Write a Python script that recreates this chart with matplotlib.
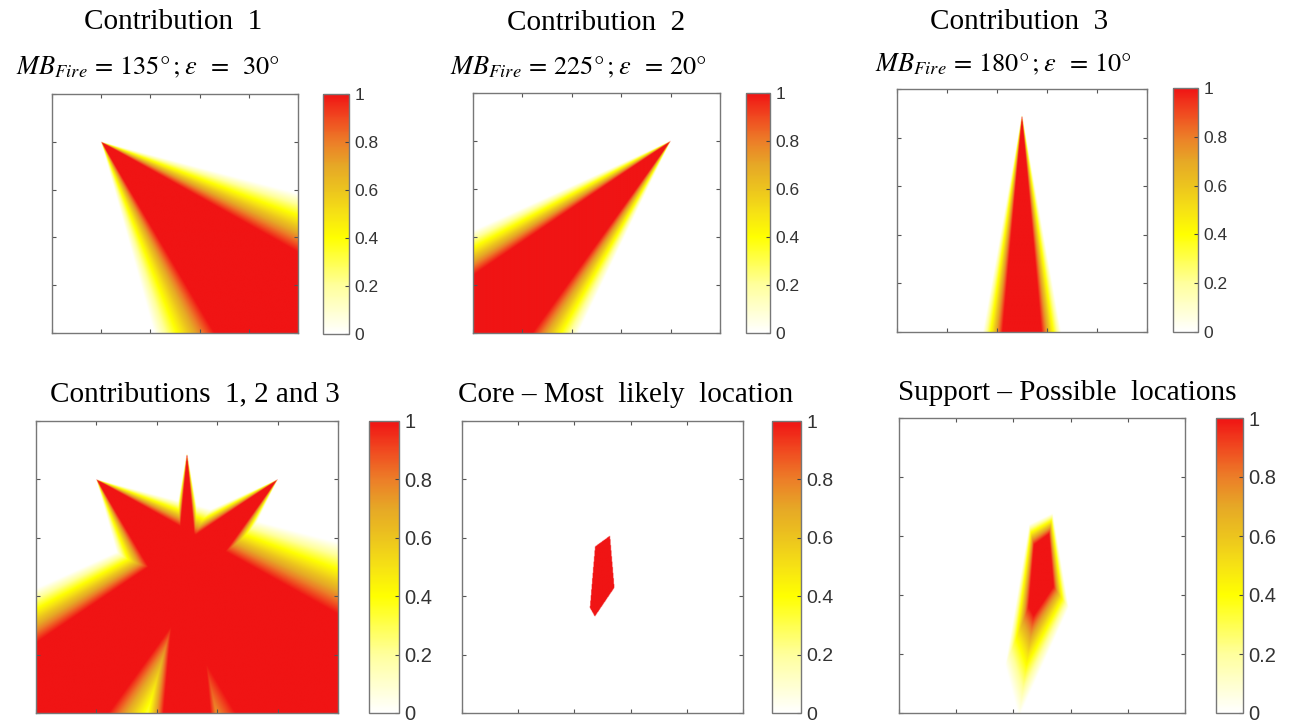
import numpy as np
import matplotlib
matplotlib.use('Agg')
import matplotlib.pyplot as plt
from matplotlib.colors import LinearSegmentedColormap

plt.rcParams['mathtext.fontset'] = 'stix'

# observers / bearings (domain 0..5 on both axes)
apex_x = [1.0, 4.0, 2.5]
apex_y = [4.0, 4.0, 4.45]
bearing = [135, 225, 180]
eps = [30, 20, 10]

titles = ['Contribution  1', 'Contribution  2', 'Contribution  3',
          'Contributions  1, 2 and 3', 'Core \u2013 Most  likely  location',
          'Support \u2013 Possible  locations']
subtitles = [r'$MB_{Fire}\,=\,135\degree\,;\varepsilon\;\;=\;\;30\degree$',
             r'$MB_{Fire}\,=\,225\degree\,;\varepsilon\;\;=\,20\degree$',
             r'$MB_{Fire}\,=\,180\degree\,;\varepsilon\;\;=\,10\degree$']
cb_ticks = [0, 0.2, 0.4, 0.6, 0.8, 1]
cb_labels = ['0', '0.2', '0.4', '0.6', '0.8', '1']
ax_ticks = [0, 1, 2, 3, 4, 5]

cmap = LinearSegmentedColormap.from_list('fire', [
    (0.0, '#ffffff'), (0.2, '#ffff9c'), (0.4, '#ffff00'), (0.5, '#f6e214'),
    (0.6, '#ecc41e'), (0.7, '#e6a826'), (0.8, '#ec7e28'), (0.9, '#f04a20'),
    (1.0, '#f01414')])

n = 600
xs = np.linspace(0, 5, n)
X, Y = np.meshgrid(xs, xs)


def membership(x0, y0, mb, e):
    b = np.degrees(np.arctan2(X - x0, Y - y0)) % 360
    d = np.abs((b - mb + 180) % 360 - 180)
    mu = np.clip((e - d) / (e / 2.0), 0, 1)
    return mu


mus = [membership(apex_x[i], apex_y[i], bearing[i], eps[i]) for i in range(3)]
union = np.maximum.reduce(mus)
inter = np.minimum.reduce(mus)
core = (inter >= 0.999).astype(float)
fields = mus + [union, core, inter]

W, H = 1289.0, 724.0


def px(x0, y0, x1, y1):
    return [x0 / W, 1 - y1 / H, (x1 - x0) / W, (y1 - y0) / H]


ax_box = [(52, 94, 298, 333), (473, 93, 720, 333), (897, 89, 1147, 332),
          (36, 421, 338, 713), (462, 421, 743, 713), (899, 418, 1185, 713)]
cb_box = [(323, 94, 349, 334), (746, 93, 770, 333), (1173, 88, 1198, 332),
          (369, 421, 399, 713), (772, 421, 801, 713), (1216, 418, 1243, 713)]
title_pos = [(173, 22), (596, 23), (1019, 22), (195, 394), (626, 395), (1067, 393)]
sub_pos = [(148, 74), (578, 74), (1003, 71)]
cb_fs = [12.5, 12.5, 12.5, 14.5, 14, 14.5]

fig = plt.figure(figsize=(12.89, 7.24), dpi=100)

for i in range(6):
    ax = fig.add_axes(px(*ax_box[i]))
    im = ax.imshow(fields[i], origin='lower', extent=[0, 5, 0, 5], cmap=cmap,
                   vmin=0, vmax=1, interpolation='bilinear', aspect='auto')
    ax.set_xlim(0, 5)
    ax.set_ylim(0, 5)
    ax.set_xticks(ax_ticks)
    ax.set_yticks(ax_ticks)
    ax.tick_params(direction='in', length=3, width=0.8, color='#555555',
                   top=True, right=True, labelbottom=False, labelleft=False)
    for s in ax.spines.values():
        s.set_color('#777777')
        s.set_linewidth(1.0)

    cax = fig.add_axes(px(*cb_box[i]))
    cb = fig.colorbar(im, cax=cax, ticks=cb_ticks)
    cb.ax.set_yticklabels(cb_labels, family='Liberation Sans', fontsize=cb_fs[i],
                          color='#333333')
    cb.ax.tick_params(direction='in', length=3, width=0.8, color='#444444', pad=4)
    cb.outline.set_edgecolor('#777777')
    cb.outline.set_linewidth(1.0)

    tx, ty = title_pos[i]
    fig.text(tx / W, 1 - ty / H, titles[i], ha='center', va='center',
             family='Liberation Serif', fontsize=21)

for i in range(3):
    sx, sy = sub_pos[i]
    fig.text(sx / W, 1 - sy / H, subtitles[i], ha='center', va='baseline',
             fontsize=19)

fig.savefig('out.png', dpi=100)
